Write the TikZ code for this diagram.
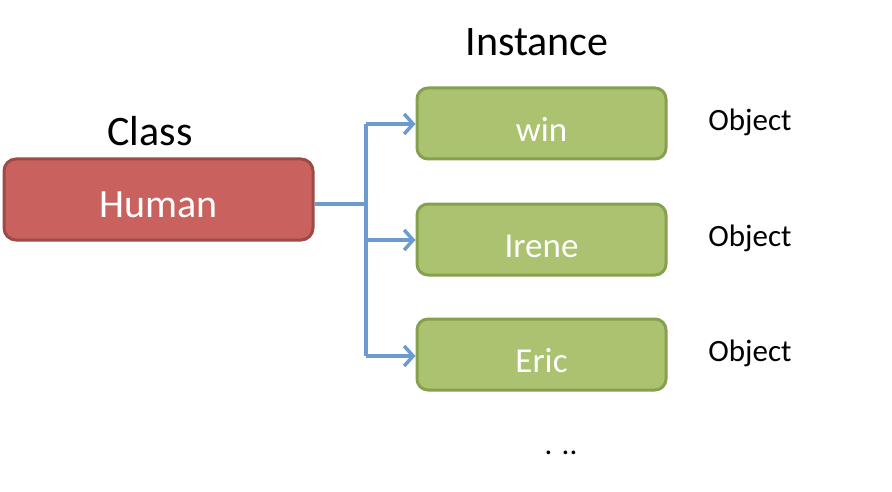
\documentclass[tikz,border=0pt]{standalone}
\usepackage{fontspec}
\setmainfont{Carlito}
\usetikzlibrary{arrows.meta}
\definecolor{redfill}{HTML}{C9625F}
\definecolor{redline}{HTML}{9E4A47}
\definecolor{greenfill}{HTML}{ABC270}
\definecolor{greenline}{HTML}{87A04F}
\definecolor{bluelink}{HTML}{6B9BCF}
\begin{document}
\begin{tikzpicture}[x=1pt,y=-1pt,
  classbox/.style={draw=redline,fill=redfill,line width=3pt,rounded corners=12pt,
    minimum width=309pt,minimum height=81pt,inner sep=0pt,text=white,
    text height=37pt,text depth=0pt,font=\fontsize{40}{48}\selectfont},
  instbox/.style={draw=greenline,fill=greenfill,line width=3pt,rounded corners=11pt,
    minimum width=249pt,minimum height=71pt,inner sep=0pt,text=white,
    text height=36pt,text depth=0pt,font=\fontsize{35}{42}\selectfont},
  biglabel/.style={font=\fontsize{42}{50}\selectfont,inner sep=0pt},
  objlabel/.style={font=\fontsize{31}{37}\selectfont,inner sep=0pt},
  link/.style={draw=bluelink,line width=4.5pt},
  arrowlink/.style={link,-{Straight Barb[length=9pt,width=20pt,line width=3.5pt]}}]
\useasboundingbox (0,0) rectangle (892,492);
\node[classbox] (human) at (158.5,199.5) {Human};
\node[instbox] (win) at (541.5,123.5) {win};
\node[instbox] (irene) at (541.5,239.5) {Irene};
\node[instbox] (eric) at (541.5,354.5) {Eric};
\node[biglabel] (class) at (150,131) {Class};
\node[biglabel] (instance) at (537,42) {Instance};
\node[objlabel] (o1) at (750,122) {Object};
\node[objlabel] (o2) at (750,238) {Object};
\node[objlabel] (o3) at (750,353) {Object};
\node[objlabel] (dots) at (561,453) {. ..};
\coordinate (j) at (366,204);
\draw[link] (human.east |- j) -- (j);
\draw[link] (366,124) -- (366,356);
\draw[arrowlink] (366,124) -- (win.west |- 0,124);
\draw[arrowlink] (366,240) -- (irene.west |- 0,240);
\draw[arrowlink] (366,356) -- (eric.west |- 0,356);
\end{tikzpicture}
\end{document}
